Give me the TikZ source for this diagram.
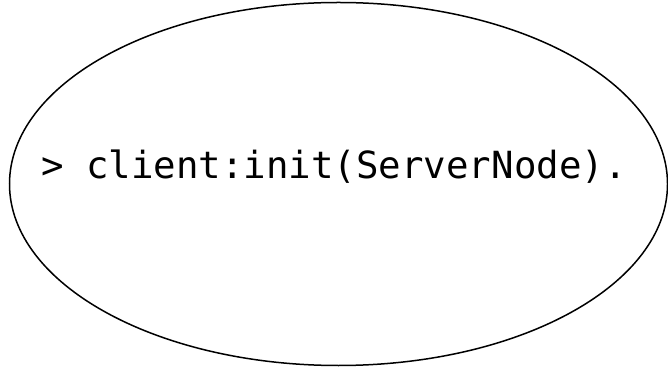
\documentclass[tikz,border=0pt]{standalone}
\usepackage{fontspec}
\setmonofont{DejaVu Sans Mono}
\begin{document}
\begin{tikzpicture}[x=1pt,y=1pt,
  outline/.style={draw=black,line width=1.5pt},
  prompt/.style={font=\ttfamily\fontsize{37.4}{42}\selectfont,inner sep=0pt,anchor=base west}]
\useasboundingbox (0,0) rectangle (668,369);
% the enclosing ellipse
\draw[outline] (338.5,185) ellipse [x radius=329,y radius=181.5];
% the shell command
\node[prompt] (cmd) at (41,190) {> client:init(ServerNode).};
\end{tikzpicture}
\end{document}
